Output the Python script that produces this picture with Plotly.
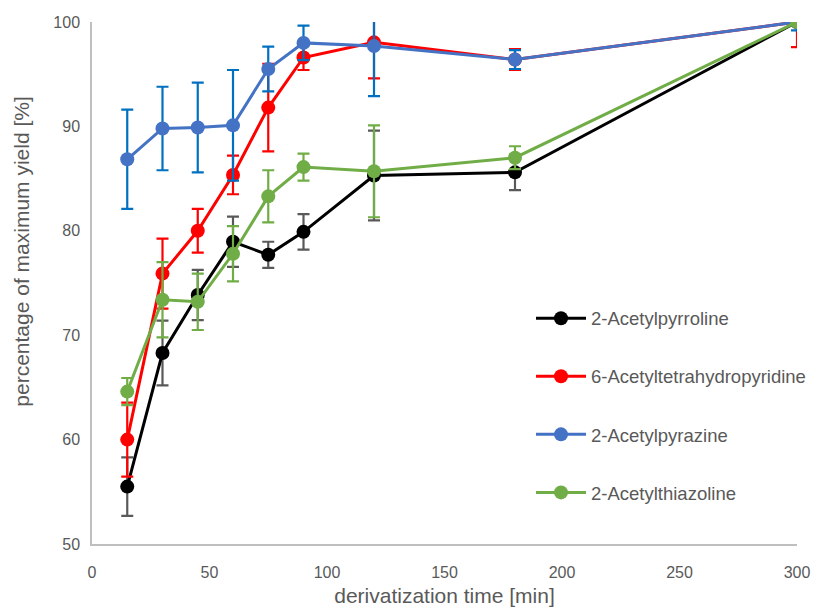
import plotly.graph_objects as go

# Derivatization time points [min]
time_min = [15, 30, 45, 60, 75, 90, 120, 180, 300]

# Percentage of maximum yield and standard deviations per compound
pyrroline = [55.5, 68.3, 73.85, 78.95, 77.7, 79.9, 85.3, 85.6, 100]
pyrroline_sd = [2.8, 3.1, 2.4, 2.4, 1.25, 1.7, 4.3, 1.7, 0]

tetrahydropyridine = [60.0, 75.9, 80.0, 85.35, 91.8, 96.6, 98.05, 96.4, 100]
tetrahydropyridine_sd = [3.55, 3.35, 2.1, 1.85, 4.2, 1.2, 3.45, 1.0, 2.4]

pyrazine = [86.85, 89.8, 89.9, 90.1, 95.5, 98.0, 97.7, 96.4, 100]
pyrazine_sd = [4.75, 4.0, 4.3, 5.3, 2.15, 1.65, 4.8, 0.9, 0.8]

thiazoline = [64.6, 73.4, 73.2, 77.8, 83.3, 86.1, 85.7, 87.0, 100]
thiazoline_sd = [1.3, 3.6, 2.7, 2.65, 2.5, 1.3, 4.4, 1.1, 0]

series = [
    ("2-Acetylpyrroline", pyrroline, pyrroline_sd, "#000000", "#595959"),
    ("6-Acetyltetrahydropyridine", tetrahydropyridine, tetrahydropyridine_sd, "#FF0000", "#FF0000"),
    ("2-Acetylpyrazine", pyrazine, pyrazine_sd, "#4472C4", "#0070C0"),
    ("2-Acetylthiazoline", thiazoline, thiazoline_sd, "#70AD47", "#70AD47"),
]

fig = go.Figure()
for i, (name, values, sd, color, err_color) in enumerate(series):
    fig.add_trace(go.Scatter(
        x=time_min, y=values, name=name, mode="lines+markers",
        legendgroup=f"g{i}",
        line=dict(color=color, width=3),
        marker=dict(color=color, size=14),
        error_y=dict(type="data", array=sd, visible=True,
                     color=err_color, thickness=2.2, width=6),
    ))

family = "Liberation Sans, Arial, sans-serif"
tick_font = dict(family=family, size=16, color="#595959")
title_font = dict(family=family, size=21, color="#595959")

fig.update_layout(
    width=814, height=608,
    margin=dict(l=92, r=17, t=22, b=64, autoexpand=False),
    paper_bgcolor="white", plot_bgcolor="white",
    font=tick_font,
    showlegend=True,
    legend=dict(
        x=0.6227, y=0.468, xanchor="left", yanchor="top",
        bgcolor="rgba(0,0,0,0)", font=dict(family=family, size=18.5, color="#595959"),
        tracegroupgap=31, itemwidth=50,
    ),
    xaxis=dict(
        range=[0, 300], tickvals=[0, 50, 100, 150, 200, 250, 300],
        showgrid=False, zeroline=False, showline=True, automargin=False,
        linecolor="#BFBFBF", linewidth=1.5, ticks="",
        tickfont=tick_font, ticklabelstandoff=13,
        title=dict(text="derivatization time [min]", font=title_font, standoff=8),
    ),
    yaxis=dict(
        range=[50, 100], tickvals=[50, 60, 70, 80, 90, 100],
        showgrid=False, zeroline=False, showline=True, automargin=False,
        linecolor="#BFBFBF", linewidth=1.5, ticks="",
        tickfont=tick_font, ticklabelstandoff=7,
    ),
    # y-axis title, placed slightly above the axis midpoint
    annotations=[dict(
        text="percentage of maximum yield [%]", textangle=-90,
        xref="paper", yref="paper", x=-0.0993, y=0.56,
        xanchor="center", yanchor="middle", showarrow=False,
        font=title_font,
    )],
)

fig.write_html("out.html")
